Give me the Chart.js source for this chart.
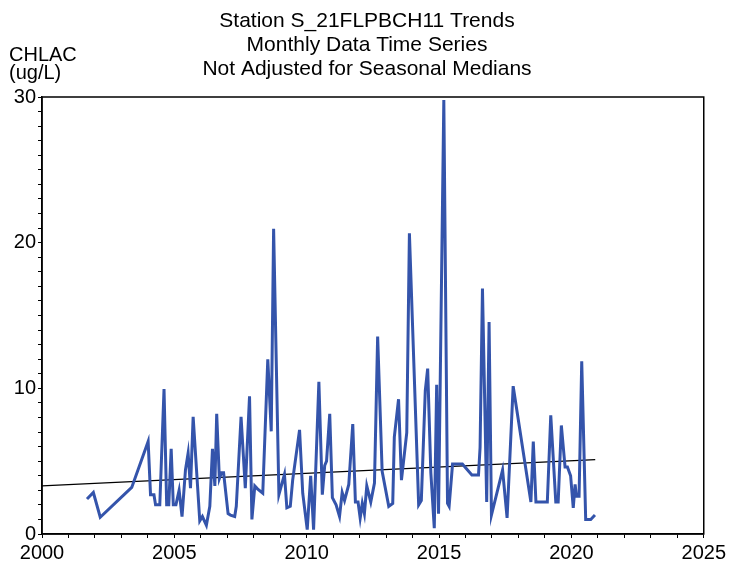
<!DOCTYPE html>
<html>
<head>
<meta charset="utf-8">
<title>Station S_21FLPBCH11 Trends</title>
<script src="https://cdn.jsdelivr.net/npm/chart.js@4.4.1/dist/chart.umd.min.js"></script>
<style>
  html, body { margin: 0; padding: 0; background: #fff; }
  #wrap { width: 729px; height: 562px; }
</style>
</head>
<body>
<div id="wrap"><canvas id="chart" width="729" height="562"></canvas></div>
<script>
// ==========================================
// Station trend chart — CHLAC monthly series
// ==========================================

const titleLines = ['Station S_21FLPBCH11 Trends', 'Monthly Data Time Series', 'Not Adjusted for Seasonal Medians'];
const yTitleLines = ['CHLAC', '(ug/L)'];

// sample dates (decimal years) and CHLAC values (ug/L)
const sampleYears = [
  2001.70, 2001.94, 2002.20, 2003.39, 2004.01, 2004.10, 2004.23, 2004.29, 2004.45, 2004.61,
  2004.71, 2004.79, 2004.88, 2004.96, 2005.06, 2005.18, 2005.29, 2005.42, 2005.52, 2005.61,
  2005.71, 2005.96, 2006.06, 2006.21, 2006.34, 2006.44, 2006.53, 2006.60, 2006.70, 2006.78,
  2006.86, 2007.03, 2007.12, 2007.28, 2007.34, 2007.52, 2007.68, 2007.84, 2007.93, 2008.04,
  2008.14, 2008.34, 2008.53, 2008.66, 2008.75, 2008.95, 2009.16, 2009.25, 2009.38, 2009.47,
  2009.73, 2009.85, 2010.02, 2010.15, 2010.26, 2010.46, 2010.59, 2010.68, 2010.75, 2010.87,
  2010.97, 2011.11, 2011.24, 2011.34, 2011.43, 2011.59, 2011.74, 2011.84, 2011.94, 2012.02,
  2012.10, 2012.18, 2012.27, 2012.42, 2012.56, 2012.68, 2012.85, 2013.10, 2013.25, 2013.31,
  2013.47, 2013.58, 2013.78, 2013.88, 2014.23, 2014.33, 2014.48, 2014.57, 2014.69, 2014.82,
  2014.91, 2014.98, 2015.18, 2015.32, 2015.38, 2015.51, 2015.88, 2016.24, 2016.49, 2016.55,
  2016.64, 2016.80, 2016.89, 2016.98, 2017.40, 2017.57, 2017.80, 2018.47, 2018.56, 2018.66,
  2019.09, 2019.22, 2019.41, 2019.50, 2019.62, 2019.76, 2019.85, 2019.97, 2020.07, 2020.14,
  2020.19, 2020.29, 2020.39, 2020.54, 2020.73, 2020.89
];
const chlacValues = [
  2.4, 2.85, 1.15, 3.2, 6.35, 2.7, 2.7, 2.0, 2.0, 9.95,
  2.0, 2.0, 5.85, 2.0, 2.0, 3.0, 1.2, 4.4, 5.55, 3.15,
  8.05, 0.9, 1.2, 0.6, 1.9, 5.85, 3.3, 8.25, 3.8, 4.2,
  4.2, 1.4, 1.3, 1.2, 1.9, 8.05, 3.15, 9.45, 1.0, 3.3,
  3.1, 2.8, 12.0, 7.05, 20.95, 2.7, 4.1, 1.8, 1.9, 3.7,
  7.15, 2.8, 0.3, 4.0, 0.3, 10.45, 2.7, 4.7, 5.0, 8.25,
  2.5, 2.0, 1.2, 2.85, 2.3, 3.4, 7.55, 2.2, 2.2, 1.1,
  2.1, 1.4, 3.3, 2.2, 3.5, 13.55, 4.3, 1.9, 2.1, 6.65,
  9.25, 3.7, 6.95, 20.65, 2.0, 2.3, 9.85, 11.35, 4.2, 0.4,
  10.25, 1.4, 29.8, 2.1, 1.9, 4.8, 4.8, 4.05, 4.05, 5.95,
  16.85, 2.2, 14.55, 1.3, 4.4, 1.1, 10.15, 2.2, 6.35, 2.2,
  2.2, 8.15, 2.2, 2.2, 7.45, 4.6, 4.6, 4.0, 1.8, 3.4,
  2.6, 2.6, 11.85, 1.0, 1.0, 1.3
];

// trend line end points
const trendYears = [2000, 2020.9];
const trendValues = [3.3, 5.1];

const xMajor = [2000, 2005, 2010, 2015, 2020, 2025];
const yMajor = [0, 10, 20, 30];

const FONT = "'Liberation Sans', Arial, sans-serif";

const series = sampleYears.map((x, i) => ({ x: x, y: chlacValues[i] }));
const trend = trendYears.map((x, i) => ({ x: x, y: trendValues[i] }));

// box round the plot + the header texts
const frameAndText = {
  id: 'frameAndText',
  afterDraw(chart) {
    const ctx = chart.ctx;
    const a = chart.chartArea;
    ctx.save();
    ctx.strokeStyle = '#000';
    ctx.lineWidth = 1.5;
    ctx.strokeRect(a.left, a.top, a.right - a.left, a.bottom - a.top);

    ctx.fillStyle = '#000';
    ctx.font = '21px ' + FONT;
    ctx.textAlign = 'center';
    ctx.textBaseline = 'alphabetic';
    titleLines.forEach((t, i) => ctx.fillText(t, 367, 27 + i * 24));

    ctx.font = '20px ' + FONT;
    ctx.textAlign = 'left';
    yTitleLines.forEach((t, i) => ctx.fillText(t, 9, 61 + i * 18));
    ctx.restore();
  }
};

new Chart(document.getElementById('chart'), {
  type: 'line',
  data: {
    datasets: [{
      label: 'CHLAC',
      data: series,
      borderColor: '#3454ab',
      borderWidth: 3,
      pointRadius: 0,
      tension: 0,
      fill: false
    }, {
      label: 'Trend',
      data: trend,
      borderColor: '#000',
      borderWidth: 1.3,
      pointRadius: 0,
      tension: 0,
      fill: false
    }]
  },
  options: {
    responsive: false,
    animation: false,
    events: [],
    layout: { padding: { left: 0, top: 97, right: 22, bottom: 0 } },
    plugins: {
      legend: { display: false },
      title: { display: false },
      tooltip: { enabled: false }
    },
    scales: {
      x: {
        type: 'linear',
        min: 2000,
        max: 2025,
        afterFit: s => { s.height = 28; },
        afterBuildTicks: s => {
          s.ticks = [];
          for (let v = 2000; v <= 2025; v++) s.ticks.push({ value: v });
        },
        ticks: {
          autoSkip: false,
          maxRotation: 0,
          padding: 3,
          color: '#000',
          font: { family: FONT, size: 20 },
          callback: v => xMajor.includes(v) ? String(v) : ''
        },
        grid: { drawOnChartArea: false, tickLength: 4, tickColor: '#000', color: '#000' },
        border: { color: '#000', width: 1.5 }
      },
      y: {
        type: 'linear',
        min: 0,
        max: 30,
        afterFit: s => { s.width = 42; },
        afterBuildTicks: s => {
          s.ticks = [];
          for (let v = 0; v <= 30; v++) s.ticks.push({ value: v });
        },
        ticks: {
          autoSkip: false,
          padding: 2,
          color: '#000',
          font: { family: FONT, size: 20 },
          callback: v => yMajor.includes(v) ? String(v) : ''
        },
        grid: { drawOnChartArea: false, tickLength: 4, tickColor: '#000', color: '#000' },
        border: { color: '#000', width: 1.5 }
      }
    }
  },
  plugins: [frameAndText]
});
</script>
</body>
</html>
